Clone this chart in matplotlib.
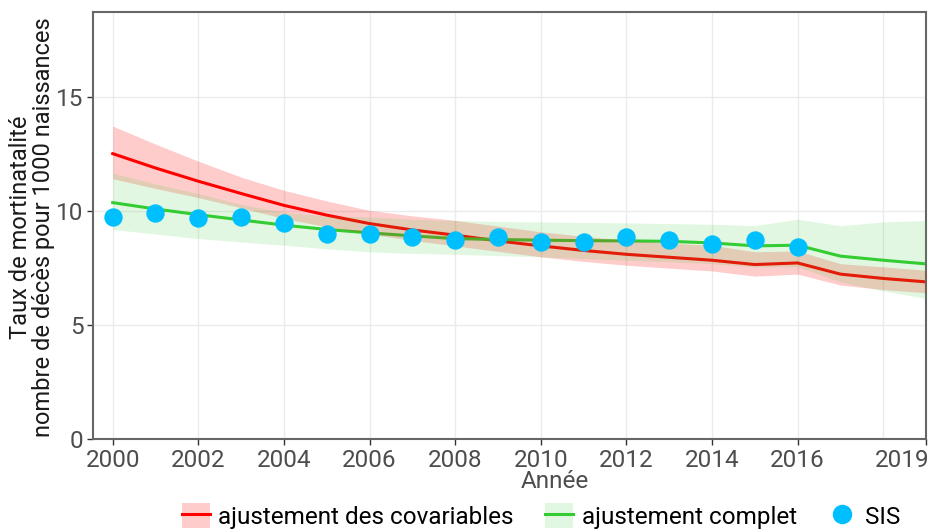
import matplotlib
matplotlib.use("Agg")
import matplotlib.pyplot as plt
from matplotlib.lines import Line2D
from matplotlib.patches import Patch
import matplotlib.transforms as mtransforms

plt.rcParams['font.family'] = ['Roboto', 'DejaVu Sans']

# data
years = list(range(2000, 2020))
red_mid = [12.53, 11.9, 11.32, 10.78, 10.26, 9.83, 9.46, 9.18, 8.95, 8.7,
           8.48, 8.28, 8.11, 7.98, 7.85, 7.66, 7.73, 7.24, 7.05, 6.9]
red_hi = [13.74, 12.95, 12.2, 11.5, 10.92, 10.45, 10.04, 9.8, 9.6, 9.35,
          9.1, 8.9, 8.73, 8.6, 8.51, 8.22, 8.26, 7.7, 7.56, 7.41]
red_lo = [11.43, 11.0, 10.6, 10.15, 9.68, 9.32, 9.0, 8.72, 8.48, 8.24,
          8.0, 7.8, 7.63, 7.5, 7.38, 7.15, 7.24, 6.76, 6.56, 6.42]
green_mid = [10.38, 10.1, 9.85, 9.62, 9.39, 9.2, 9.05, 8.92, 8.8, 8.76,
             8.73, 8.71, 8.7, 8.68, 8.61, 8.48, 8.51, 8.03, 7.85, 7.69]
green_hi = [11.68, 11.2, 10.78, 10.3, 9.95, 9.8, 9.75, 9.65, 9.6, 9.55,
            9.53, 9.51, 9.49, 9.46, 9.43, 9.37, 9.65, 9.37, 9.53, 9.6]
green_lo = [9.2, 9.0, 8.8, 8.65, 8.51, 8.35, 8.22, 8.15, 8.11, 8.05,
            8.0, 7.92, 7.85, 7.78, 7.7, 7.55, 7.56, 6.9, 6.5, 6.17]
sis_years = list(range(2000, 2017))
sis = [9.75, 9.93, 9.72, 9.75, 9.5, 8.98, 9.02, 8.86, 8.73, 8.87,
       8.63, 8.63, 8.85, 8.76, 8.58, 8.73, 8.42]

xticks = [2000, 2002, 2004, 2006, 2008, 2010, 2012, 2014, 2016, 2019]
xgrid_minor = [2018]
yticks = [0, 5, 10, 15]

RED = '#FF0000'
GREEN = '#33CC33'
BLUE = '#00BFFF'

fig = plt.figure(figsize=(9.42, 5.29), dpi=100)
ax = fig.add_axes([93 / 942, 1 - 439 / 529, 833 / 942, 427 / 529])

# lines first, ribbons over them (that is how the original is layered)
ax.plot(years, red_mid, color=RED, lw=2.2, zorder=2)
ax.plot(years, green_mid, color=GREEN, lw=2.2, zorder=2)
ax.fill_between(years, red_lo, red_hi, color=RED, alpha=0.2, lw=0, zorder=3)
ax.fill_between(years, green_lo, green_hi, color=GREEN, alpha=0.14, lw=0, zorder=3)
ax.scatter(sis_years, sis, s=175, color=BLUE, zorder=4, linewidths=0)

ax.set_xlim(1999.54, 2019.0)
ax.set_ylim(0, 18.75)
ax.set_xticks(xticks)
ax.set_xticks(xgrid_minor, minor=True)
ax.set_yticks(yticks)
ax.grid(True, which='both', color='#EBEBEB', lw=1, zorder=0)
ax.set_axisbelow(True)
ax.tick_params(which='minor', length=0)
ax.tick_params(which='major', length=4, width=1, color='#333333',
               labelsize=17.5, labelcolor='#4D4D4D', pad=3)
for s in ax.spines.values():
    s.set_color('#666666')
    s.set_linewidth(1.5)

# last x label pulled inside like the original
lab = ax.get_xticklabels()[-1]
lab.set_horizontalalignment('right')
lab.set_transform(lab.get_transform() + mtransforms.ScaledTranslation(0.04, 0, fig.dpi_scale_trans))

fig.text(555 / 942, 1 - 482 / 529, 'Année', ha='center', va='center',
         fontsize=17.5, color='#4D4D4D')
fig.text(32 / 942, 1 - 227 / 529,
         'Taux de mortinatalité\nnombre de décès pour 1000 naissances',
         ha='center', va='center', rotation=90, fontsize=17,
         color='#1A1A1A', linespacing=1.0)

handles = [
    (Patch(facecolor=RED, alpha=0.2, lw=0), Line2D([], [], color=RED, lw=2.2)),
    (Patch(facecolor=GREEN, alpha=0.14, lw=0), Line2D([], [], color=GREEN, lw=2.2)),
    Line2D([], [], marker='o', ls='', color=BLUE, markersize=13),
]
labels = ['ajustement des covariables', 'ajustement complet', 'SIS']
fig.legend(handles, labels, loc='center', bbox_to_anchor=(541 / 942, 1 - 516 / 529),
           ncol=3, frameon=False, fontsize=17.5, handlelength=1.15, handleheight=1.2,
           handletextpad=0.35, columnspacing=1.3, borderaxespad=0)

fig.savefig('out.png', dpi=100)
